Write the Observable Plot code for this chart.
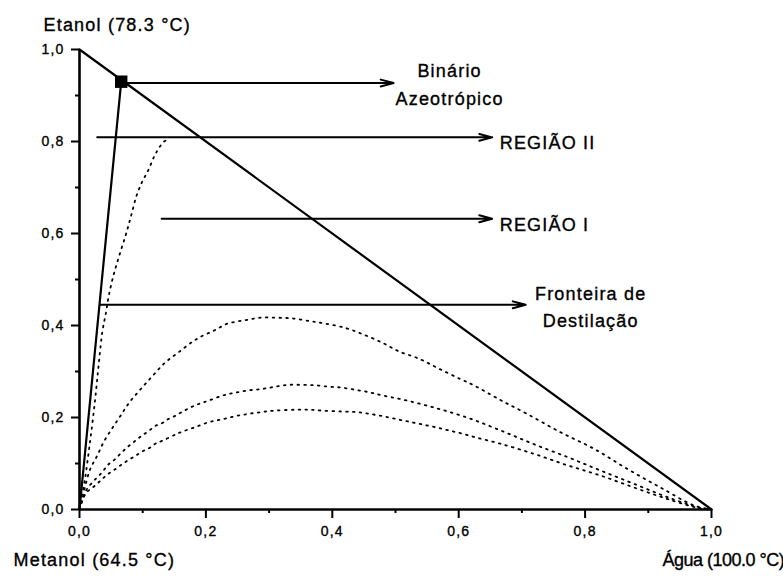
<!DOCTYPE html>
<html>
<head>
<meta charset="utf-8">
<script src="https://cdn.jsdelivr.net/npm/d3@7"></script>
<script src="https://cdn.jsdelivr.net/npm/@observablehq/plot@0.6"></script>
<style>
  body { margin: 0; background: #fff; }
  #chart svg { display: block; }
  #chart svg text { letter-spacing: 1.2px; stroke: black; stroke-width: 0.35px; }
  #chart svg g[aria-label$="tick label"] { font-size: 14px; }
</style>
</head>
<body>
<div id="chart"></div>
<script>
// Ternary residue-curve map (Metanol / Etanol / Água) on a right-triangle layout
const majorTicks = [0, 0.2, 0.4, 0.6, 0.8, 1.0];
const minorTicks = [0.1, 0.3, 0.5, 0.7, 0.9];
const tickLabels = ["0,0", "0,2", "0,4", "0,6", "0,8", "1,0"];

// Pure-component vertices
const vertexNames = ["Metanol (64.5 °C)", "Etanol (78.3 °C)", "Água (100.0 °C)"];
const vertexX = [0, 0, 1];
const vertexY = [0, 1, 0];

// Etanol–Água binary azeotrope
const azeoX = 0.066;
const azeoY = 0.930;

// Annotation arrows
const arrowLabels = ["Binário\nAzeotrópico", "REGIÃO II", "REGIÃO I", "Fronteira de\nDestilação"];
const arrowStartX = [0.066, 0.028, 0.130, 0.033];
const arrowEndX = [0.497, 0.653, 0.653, 0.706];
const arrowY = [0.927, 0.809, 0.632, 0.445];

// Residue curves (dotted)
const curveAX = [0.000, 0.008, 0.016, 0.024, 0.030, 0.036, 0.042, 0.046, 0.053, 0.062, 0.073, 0.081, 0.090, 0.099, 0.109, 0.118, 0.124, 0.133, 0.142];
const curveAY = [0.000, 0.060, 0.140, 0.230, 0.310, 0.385, 0.429, 0.462, 0.505, 0.548, 0.596, 0.635, 0.681, 0.712, 0.738, 0.767, 0.782, 0.799, 0.806];

const curveBX = [0.000, 0.008, 0.017, 0.028, 0.038, 0.051, 0.065, 0.079, 0.097, 0.116, 0.136, 0.157, 0.178, 0.191, 0.213, 0.234, 0.260, 0.286, 0.313, 0.339, 0.366, 0.381, 0.420, 0.450, 0.480, 0.505, 0.537, 0.569, 0.602, 0.624, 0.666, 0.708, 0.761, 0.814, 0.867, 0.919, 0.972, 1.000];
const curveBY = [0.000, 0.045, 0.088, 0.117, 0.146, 0.175, 0.204, 0.233, 0.262, 0.291, 0.320, 0.342, 0.364, 0.375, 0.389, 0.404, 0.411, 0.417, 0.417, 0.415, 0.409, 0.406, 0.395, 0.380, 0.362, 0.344, 0.328, 0.306, 0.284, 0.270, 0.238, 0.208, 0.168, 0.132, 0.088, 0.048, 0.009, 0.000];

const curveCX = [0.000, 0.006, 0.012, 0.026, 0.036, 0.045, 0.056, 0.066, 0.077, 0.089, 0.099, 0.109, 0.119, 0.131, 0.141, 0.152, 0.162, 0.173, 0.184, 0.194, 0.205, 0.227, 0.247, 0.268, 0.289, 0.310, 0.331, 0.352, 0.373, 0.394, 0.415, 0.437, 0.458, 0.479, 0.508, 0.560, 0.613, 0.666, 0.719, 0.772, 0.824, 0.877, 0.930, 0.983, 1.000];
const curveCY = [0.000, 0.025, 0.045, 0.067, 0.081, 0.097, 0.109, 0.123, 0.137, 0.150, 0.161, 0.170, 0.181, 0.188, 0.197, 0.204, 0.212, 0.220, 0.227, 0.232, 0.237, 0.248, 0.254, 0.259, 0.262, 0.267, 0.271, 0.271, 0.270, 0.267, 0.265, 0.260, 0.255, 0.248, 0.240, 0.222, 0.200, 0.172, 0.142, 0.114, 0.085, 0.056, 0.027, 0.003, 0.000];

const curveDX = [0.000, 0.005, 0.012, 0.023, 0.035, 0.045, 0.057, 0.068, 0.078, 0.089, 0.099, 0.111, 0.120, 0.132, 0.152, 0.162, 0.181, 0.205, 0.226, 0.247, 0.268, 0.289, 0.310, 0.342, 0.363, 0.384, 0.415, 0.437, 0.458, 0.479, 0.500, 0.521, 0.542, 0.563, 0.584, 0.605, 0.629, 0.666, 0.719, 0.772, 0.824, 0.877, 0.930, 0.983, 1.000];
const curveDY = [0.000, 0.022, 0.038, 0.050, 0.065, 0.077, 0.088, 0.099, 0.108, 0.117, 0.126, 0.134, 0.143, 0.150, 0.163, 0.169, 0.178, 0.190, 0.196, 0.203, 0.208, 0.212, 0.215, 0.217, 0.217, 0.215, 0.213, 0.212, 0.208, 0.203, 0.197, 0.191, 0.185, 0.179, 0.172, 0.165, 0.156, 0.143, 0.121, 0.096, 0.074, 0.048, 0.023, 0.002, 0.000];

const toPoints = (xs, ys) => xs.map((x, i) => ({x, y: ys[i]}));
const curves = [
  toPoints(curveAX, curveAY),
  toPoints(curveBX, curveBY),
  toPoints(curveCX, curveCY),
  toPoints(curveDX, curveDY)
];
const vertices = vertexNames.map((name, i) => ({name, x: vertexX[i], y: vertexY[i]}));
const arrows = arrowLabels.map((label, i) => ({label, x1: arrowStartX[i], x2: arrowEndX[i], y: arrowY[i]}));
const azeotrope = [{x: azeoX, y: azeoY}];

const font = "'Liberation Sans', Arial, Helvetica, sans-serif";
const tickText = d => tickLabels[majorTicks.indexOf(d)];

const chart = Plot.plot({
  width: 783,
  height: 578,
  marginLeft: 79,
  marginRight: 72,
  marginTop: 49,
  marginBottom: 69,
  style: {background: "white", color: "black", fontFamily: font, fontSize: "14px"},
  x: {domain: [0, 1]},
  y: {domain: [0, 1]},
  marks: [
    // axes
    Plot.axisX(majorTicks, {tickSize: 9, tickPadding: 8, strokeWidth: 2, tickFormat: tickText, label: null, fontSize: 14}),
    Plot.axisX(minorTicks, {tickSize: 4, strokeWidth: 2, text: null, label: null}),
    Plot.axisY(majorTicks, {tickSize: 8, tickPadding: 7, strokeWidth: 2, tickFormat: tickText, label: null, fontSize: 14}),
    Plot.axisY(minorTicks, {tickSize: 4, strokeWidth: 2, text: null, label: null}),
    Plot.ruleY([0], {x1: 0, x2: 1, strokeWidth: 2.6}),
    Plot.ruleX([0], {y1: 0, y2: 1, strokeWidth: 2.6}),

    // residue curves
    ...curves.map(c => Plot.line(c, {x: "x", y: "y", curve: "catmull-rom", stroke: "black", strokeWidth: 1.8, strokeDasharray: "1.6,5.2"})),

    // Etanol–Água edge and distillation boundary to the azeotrope
    Plot.line([vertices[1], vertices[2]], {x: "x", y: "y", stroke: "black", strokeWidth: 2.2}),
    Plot.line([vertices[0], azeotrope[0]], {x: "x", y: "y", stroke: "black", strokeWidth: 2.2}),

    // annotation arrows
    Plot.arrow(arrows, {x1: "x1", x2: "x2", y1: "y", y2: "y", stroke: "black", strokeWidth: 2, headAngle: 30, headLength: 10}),
    Plot.dot(azeotrope, {x: "x", y: "y", symbol: "square", r: 7, fill: "black"}),

    // annotation labels
    Plot.text(arrows.slice(0, 1), {x: "x2", y: "y", text: "label", dx: 56, dy: 22, textAnchor: "middle", lineAnchor: "bottom", lineHeight: 1.55, fontSize: 18}),
    Plot.text(arrows.slice(1, 3), {x: "x2", y: "y", text: "label", dx: 7.5, dy: 12, textAnchor: "start", lineAnchor: "bottom", fontSize: 18}),
    Plot.text(arrows.slice(3, 4), {x: "x2", y: "y", text: "label", dx: 65, dy: 22, textAnchor: "middle", lineAnchor: "bottom", lineHeight: 1.5, fontSize: 18}),

    // vertex labels
    Plot.text(vertices.slice(1, 2), {x: "x", y: "y", text: "name", dx: -36, dy: -19, textAnchor: "start", lineAnchor: "bottom", fontSize: 18}),
    Plot.text(vertices.slice(0, 1), {x: "x", y: "y", text: "name", dx: -66, dy: 56, textAnchor: "start", lineAnchor: "bottom", fontSize: 18}),
    Plot.text(vertices.slice(2, 3), {x: "x", y: "y", text: "name", dx: -49, dy: 56, textAnchor: "start", lineAnchor: "bottom", fontSize: 18})
  ]
});

document.getElementById("chart").appendChild(chart);

// tighter tracking for the Água label
d3.select(chart).selectAll("text").filter(function () { return this.textContent === vertexNames[2]; })
  .style("letter-spacing", "-0.5px");
</script>
</body>
</html>
